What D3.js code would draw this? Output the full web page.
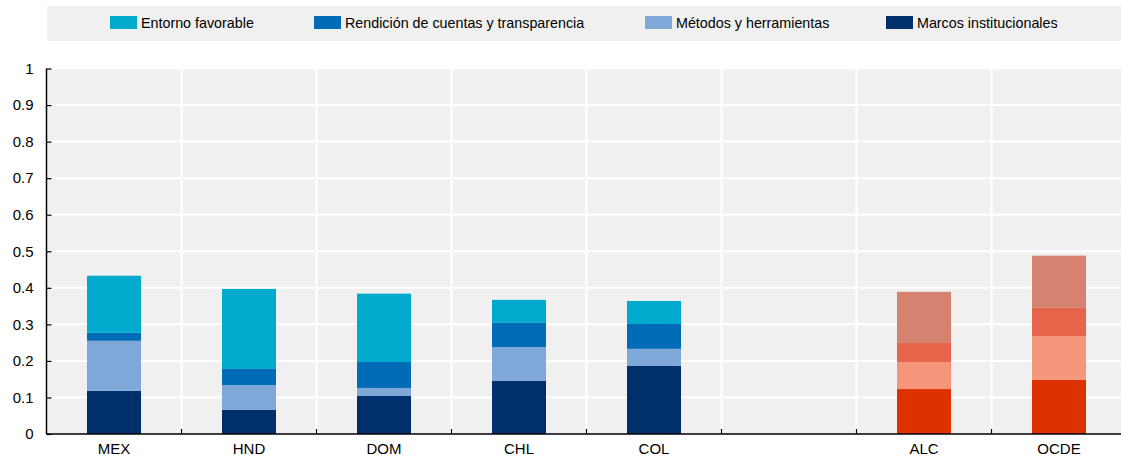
<!DOCTYPE html>
<meta charset="utf-8">
<script src="https://d3js.org/d3.v7.min.js"></script>
<style>
  body { margin: 0; background: #fff; }
  text { font-family: "Liberation Sans", Arial, sans-serif; }
</style>
<div id="chart"></div>
<script>
  // categories ("" is the empty gap slot)
  const countries = ["MEX", "HND", "DOM", "CHL", "COL", "", "ALC", "OCDE"];
  const seriesNames = ["Marcos institucionales", "Métodos y herramientas", "Rendición de cuentas y transparencia", "Entorno favorable"];
  const marcos    = [0.118, 0.066, 0.104, 0.145, 0.186, null, 0.123, 0.148];
  const metodos   = [0.137, 0.068, 0.022, 0.093, 0.047, null, 0.074, 0.120];
  const rendicion = [0.022, 0.044, 0.071, 0.066, 0.068, null, 0.052, 0.077];
  const entorno   = [0.156, 0.219, 0.187, 0.063, 0.063, null, 0.140, 0.143];
  const yTicks = [0, 0.1, 0.2, 0.3, 0.4, 0.5, 0.6, 0.7, 0.8, 0.9, 1];
  const legendOrder = ["Entorno favorable", "Rendición de cuentas y transparencia", "Métodos y herramientas", "Marcos institucionales"];

  const blues = ["#00306b", "#7fa8d9", "#006bb6", "#00aacc"];
  const reds  = ["#dc3100", "#f5967a", "#e6654b", "#d68271"];
  const aggregates = ["ALC", "OCDE"];

  const width = 1121, height = 459;
  const margin = {left: 46.5, top: 68.5, bottom: 25};
  const plotW = 1080, plotH = height - margin.bottom - margin.top;

  const svg = d3.select("#chart").append("svg")
    .attr("width", width).attr("height", height);

  // legend
  svg.append("rect").attr("x", 47).attr("y", 6).attr("width", width - 47).attr("height", 35)
    .attr("fill", "#f0f0f0");
  const legendX = [110, 314, 645, 886];
  legendOrder.forEach(function(name, i) {
    const idx = seriesNames.indexOf(name);
    svg.append("rect").attr("x", legendX[i]).attr("y", 16).attr("width", 27).attr("height", 13)
      .attr("fill", blues[idx]);
    svg.append("text").attr("x", legendX[i] + 31).attr("y", 28)
      .attr("font-size", 14.3).attr("fill", "#000").text(name);
  });

  const g = svg.append("g").attr("transform", `translate(${margin.left},${margin.top})`);

  const x = d3.scaleBand().domain(countries.map((c, i) => i)).range([0, plotW]).paddingInner(0).paddingOuter(0);
  const y = d3.scaleLinear().domain([0, 1]).range([plotH, 0]);

  g.append("rect").attr("x", 0).attr("y", 0).attr("width", plotW).attr("height", plotH).attr("fill", "#f0f0f0");

  // gridlines
  g.selectAll(".hgrid").data(yTicks.slice(1)).enter().append("line")
    .attr("x1", 0).attr("x2", plotW)
    .attr("y1", d => y(d)).attr("y2", d => y(d))
    .attr("stroke", "#fff").attr("stroke-width", 2);
  g.selectAll(".vgrid").data(d3.range(1, countries.length)).enter().append("line")
    .attr("x1", d => x(d)).attr("x2", d => x(d))
    .attr("y1", 0).attr("y2", plotH)
    .attr("stroke", "#fff").attr("stroke-width", 2);

  // stacked bars
  const rows = countries.map(function(c, i) {
    return {i: i, name: c, s0: marcos[i], s1: metodos[i], s2: rendicion[i], s3: entorno[i]};
  }).filter(d => d.name !== "");
  const stack = d3.stack().keys(["s0", "s1", "s2", "s3"]);
  const layers = stack(rows);
  const bw = x.bandwidth() * 0.4;

  layers.forEach(function(layer, k) {
    g.selectAll(".bar" + k).data(layer).enter().append("rect")
      .attr("x", d => x(d.data.i) + (x.bandwidth() - bw) / 2)
      .attr("width", bw)
      .attr("y", d => y(d[1]))
      .attr("height", d => y(d[0]) - y(d[1]))
      .attr("fill", d => aggregates.includes(d.data.name) ? reds[k] : blues[k]);
  });

  // y axis
  const yAxis = g.append("g").call(d3.axisRight(y).tickValues(yTicks).tickSize(5).tickFormat(d3.format("~g")));
  yAxis.select(".domain").attr("d", `M0,0V${plotH}`).attr("stroke", "#000").attr("stroke-width", 1.5);
  yAxis.selectAll(".tick line").attr("stroke", "#000").attr("stroke-width", 1.2);
  yAxis.selectAll(".tick text").attr("x", -13).attr("text-anchor", "end")
    .attr("font-size", 15).attr("fill", "#000").attr("font-family", "Liberation Sans, Arial, sans-serif");

  // x axis
  g.append("line").attr("x1", 0).attr("x2", plotW).attr("y1", plotH).attr("y2", plotH)
    .attr("stroke", "#000").attr("stroke-width", 1.5);
  g.selectAll(".xtick").data(d3.range(1, countries.length)).enter().append("line")
    .attr("x1", d => x(d)).attr("x2", d => x(d))
    .attr("y1", plotH).attr("y2", plotH - 5)
    .attr("stroke", "#000").attr("stroke-width", 1.2);
  g.selectAll(".xlabel").data(rows).enter().append("text")
    .attr("x", d => x(d.i) + x.bandwidth() / 2)
    .attr("y", plotH + 20)
    .attr("text-anchor", "middle").attr("font-size", 15).attr("fill", "#000")
    .text(d => d.name);
</script>
